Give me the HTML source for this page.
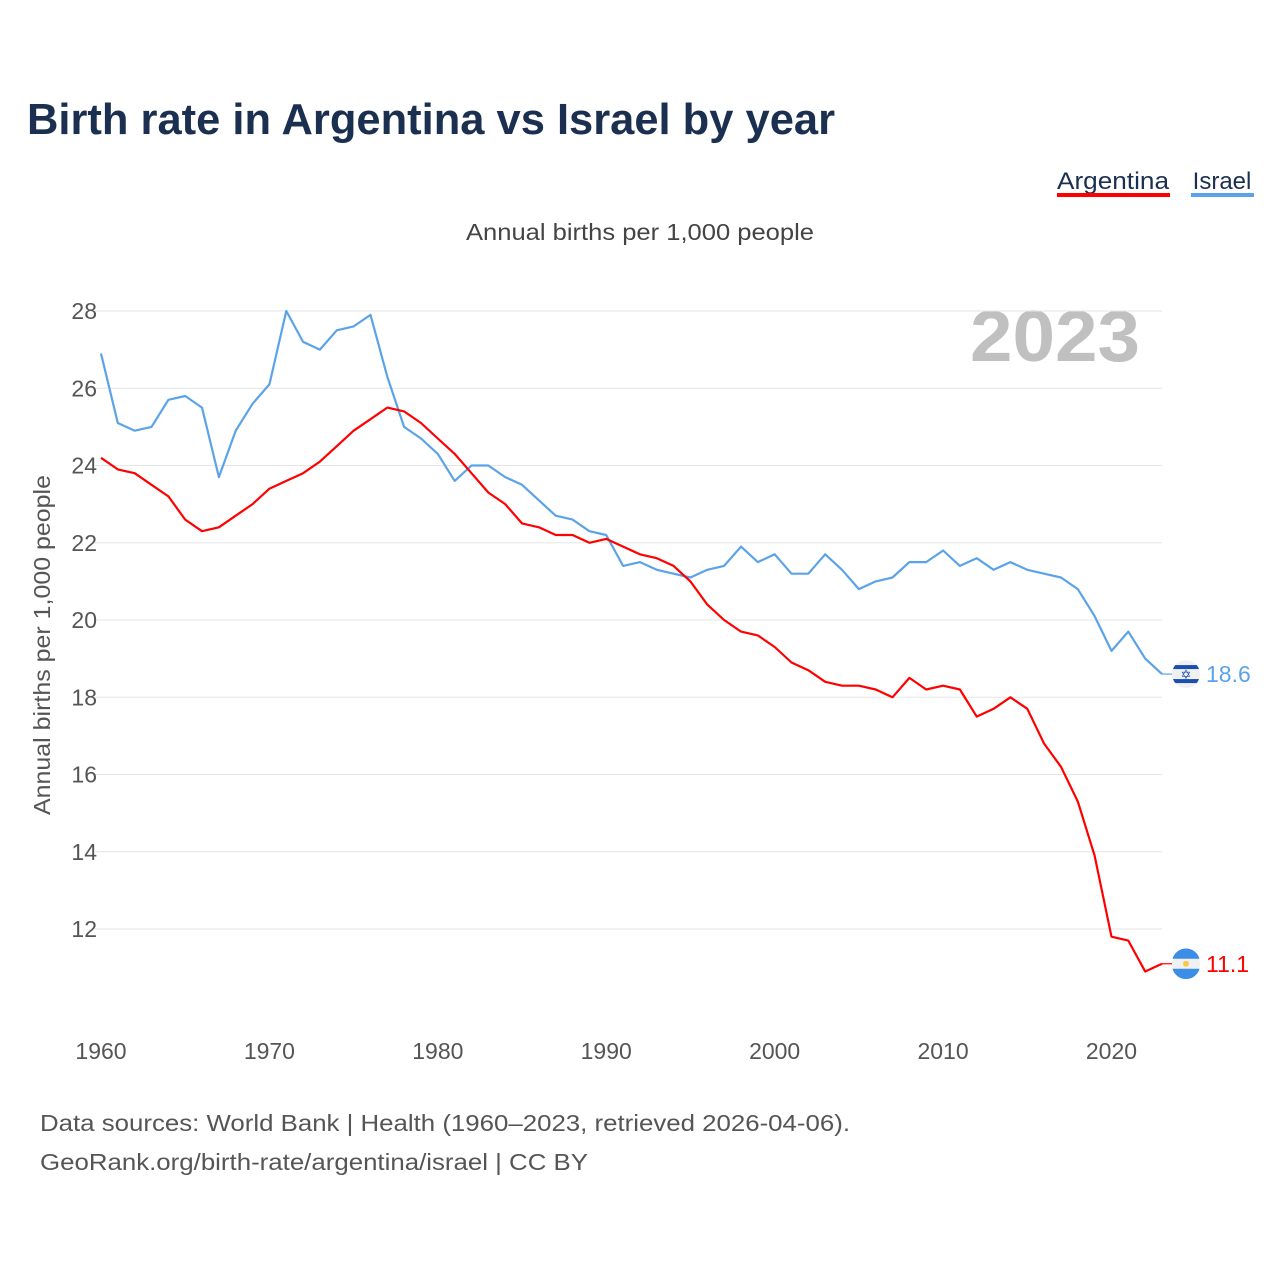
<!DOCTYPE html>
<html><head><meta charset="utf-8">
<style>
body{margin:0;background:#fff;font-family:"Liberation Sans",sans-serif;}
svg{display:block}
</style></head>
<body>
<svg width="1280" height="1280" xmlns="http://www.w3.org/2000/svg">
<defs>
<clipPath id="clipIl"><circle cx="1186" cy="0" r="14" id="clipIlC"/></clipPath>
</defs>
<text x="27" y="134" font-size="44" font-weight="bold" fill="#1b3050" textLength="808" lengthAdjust="spacingAndGlyphs">Birth rate in Argentina vs Israel by year</text>
<g>
<text x="1113" y="189" font-size="24" fill="#1b3050" text-anchor="middle" textLength="112" lengthAdjust="spacingAndGlyphs">Argentina</text>
<rect x="1057" y="193" width="113" height="4" fill="#ff0000"/>
</g>
<g>
<text x="1222" y="189" font-size="24" fill="#1b3050" text-anchor="middle">Israel</text>
<rect x="1191" y="193" width="63" height="4" fill="#5ba3e8"/>
</g>
<text x="640" y="240" font-size="23" fill="#444" text-anchor="middle" textLength="348" lengthAdjust="spacingAndGlyphs">Annual births per 1,000 people</text>
<text x="1140" y="361" font-size="72" font-weight="bold" fill="#c0c0c0" text-anchor="end" textLength="170" lengthAdjust="spacingAndGlyphs">2023</text>
<text transform="translate(50,645) rotate(-90)" font-size="23" fill="#555" text-anchor="middle" textLength="340" lengthAdjust="spacingAndGlyphs">Annual births per 1,000 people</text>
<g id="grid"></g>
<g id="yticks"></g>
<g id="xticks"></g>
<g id="lines"></g>
<g id="ends"></g>
<text x="40" y="1131" font-size="23" fill="#555" textLength="810" lengthAdjust="spacingAndGlyphs">Data sources: World Bank | Health (1960–2023, retrieved 2026-04-06).</text>
<text x="40" y="1170" font-size="23" fill="#555" textLength="548" lengthAdjust="spacingAndGlyphs">GeoRank.org/birth-rate/argentina/israel | CC BY</text>
</svg>
<script>
const years = [];
for (let y = 1960; y <= 2023; y++) years.push(y);
const israel = [26.9,25.1,24.9,25.0,25.7,25.8,25.5,23.7,24.9,25.6,26.1,28.0,27.2,27.0,27.5,27.6,27.9,26.3,25.0,24.7,24.3,23.6,24.0,24.0,23.7,23.5,23.1,22.7,22.6,22.3,22.2,21.4,21.5,21.3,21.2,21.1,21.3,21.4,21.9,21.5,21.7,21.2,21.2,21.7,21.3,20.8,21.0,21.1,21.5,21.5,21.8,21.4,21.6,21.3,21.5,21.3,21.2,21.1,20.8,20.1,19.2,19.7,19.0,18.6];
const argentina = [24.2,23.9,23.8,23.5,23.2,22.6,22.3,22.4,22.7,23.0,23.4,23.6,23.8,24.1,24.5,24.9,25.2,25.5,25.4,25.1,24.7,24.3,23.8,23.3,23.0,22.5,22.4,22.2,22.2,22.0,22.1,21.9,21.7,21.6,21.4,21.0,20.4,20.0,19.7,19.6,19.3,18.9,18.7,18.4,18.3,18.3,18.2,18.0,18.5,18.2,18.3,18.2,17.5,17.7,18.0,17.7,16.8,16.2,15.3,13.9,11.8,11.7,10.9,11.1];
const yTicks = [12,14,16,18,20,22,24,26,28];
const xTicks = [1960,1970,1980,1990,2000,2010,2020];
const NS = "http://www.w3.org/2000/svg";
const xs = y => 101 + (y - 1960) * (1162 - 101) / 63;
const ys = v => 929 - (v - 12) * (929 - 311) / 16;
function mk(tag, attrs, parent){const e=document.createElementNS(NS,tag);for(const k in attrs)e.setAttribute(k,attrs[k]);document.getElementById(parent).appendChild(e);return e;}
yTicks.forEach(t=>{
  const l=mk('line',{x1:95,x2:1162,y1:ys(t),y2:ys(t),stroke:'#e6e6e6','stroke-width':1},'grid');
  
  
  const tx=mk('text',{x:97,y:ys(t)+8,'font-size':23,fill:'#555','text-anchor':'end'},'yticks');
  tx.textContent=t;
  
  
});
xTicks.forEach(t=>{
  const tx=mk('text',{x:xs(t),y:1059,'font-size':23,fill:'#555','text-anchor':'middle'},'xticks');
  tx.textContent=t;
  
  
});
function line(vals,color,name){
  const d=vals.map((v,i)=>(i?'L':'M')+xs(years[i]).toFixed(1)+','+ys(v).toFixed(1)).join(' ');
  const p=mk('path',{d:d,fill:'none',stroke:color,'stroke-width':2.2,'stroke-linejoin':'round'},'lines');
  
  
}
line(israel,'#5ba3e8','israel-line');
line(argentina,'#ff0000','argentina-line');
function endLabel(v,color,name,flag){
  const y=ys(v), xe=xs(2023);
  mk('line',{x1:xe,x2:xe+10,y1:y,y2:y,stroke:color,'stroke-width':1.2},'ends');
  const g=mk('g',{},'ends');
  
  
  const cx=1186;
  const c=document.createElementNS(NS,'circle');c.setAttribute('cx',cx);c.setAttribute('cy',y);c.setAttribute('r',14);c.setAttribute('fill','#f0f0f0');g.appendChild(c);
  if(flag==='il'){
    document.getElementById('clipIlC').setAttribute('cy',y);
    const gi=document.createElementNS(NS,'g');gi.setAttribute('clip-path','url(#clipIl)');g.appendChild(gi);
    [[y-9,4],[y+5,4]].forEach(([yy,h])=>{const r=document.createElementNS(NS,'rect');r.setAttribute('x',cx-14);r.setAttribute('y',yy);r.setAttribute('width',28);r.setAttribute('height',h);r.setAttribute('fill','#1a4fb0');gi.appendChild(r);});
    const s=document.createElementNS(NS,'text');s.setAttribute('x',cx);s.setAttribute('y',y+5);s.setAttribute('font-size',13);s.setAttribute('fill','#1a4fb0');s.setAttribute('text-anchor','middle');s.setAttribute('font-family','DejaVu Sans');s.textContent='✡';g.appendChild(s);
  } else {
    const p1=document.createElementNS(NS,'path');p1.setAttribute('d',`M${cx-13.5},${y-5} A14,14 0 0 1 ${cx+13.5},${y-5} Z`);p1.setAttribute('fill','#3b8de8');g.appendChild(p1);
    const p2=document.createElementNS(NS,'path');p2.setAttribute('d',`M${cx-13.5},${y+5} A14,14 0 0 0 ${cx+13.5},${y+5} Z`);p2.setAttribute('fill','#3b8de8');g.appendChild(p2);
    const s=document.createElementNS(NS,'circle');s.setAttribute('cx',cx);s.setAttribute('cy',y);s.setAttribute('r',3);s.setAttribute('fill','#f7c948');g.appendChild(s);
  }
  const t=mk('text',{x:1206,y:y+8,'font-size':23,fill:color},'ends');
  t.textContent=v.toFixed(1);
  
  
}
endLabel(israel[israel.length-1],'#5ba3e8','israel','il');
endLabel(argentina[argentina.length-1],'#ff0000','argentina','ar');
</script>
</body></html>
